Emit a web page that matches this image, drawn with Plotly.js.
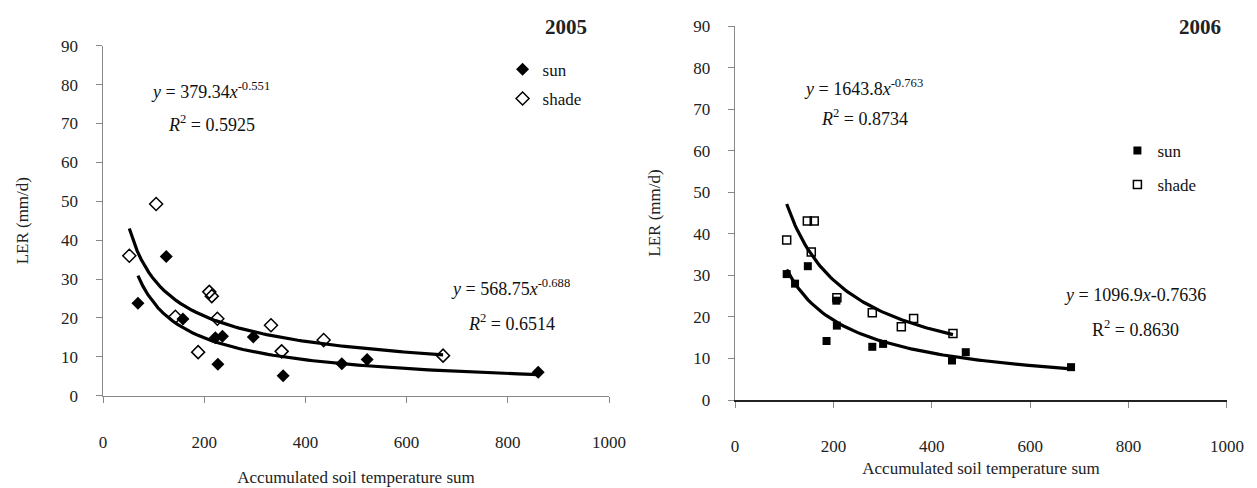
<!DOCTYPE html>
<html>
<head>
<meta charset="utf-8">
<script src="https://cdn.plot.ly/plotly-3.0.1.min.js"></script>
<style>html,body{margin:0;padding:0;background:#fff;}#chart{width:1257px;height:488px;}</style>
</head>
<body>
<div id="chart"></div>
<script>
// ---- 2005 data ----
const sun2005X   = [69, 125, 158, 222, 227, 236, 297, 356, 472, 522, 860];
const sun2005Y   = [23.8, 35.8, 19.7, 14.9, 8.1, 15.3, 15.1, 5.1, 8.2, 9.3, 6.0];
const shade2005X = [52, 105, 143, 188, 210, 215, 226, 332, 353, 436, 672];
const shade2005Y = [36.0, 49.3, 20.3, 11.2, 26.7, 25.6, 19.8, 18.1, 11.4, 14.3, 10.3];
// ---- 2006 data ----
const sun2006X   = [105, 122, 148, 186, 206, 207, 279, 301, 441, 469, 683];
const sun2006Y   = [30.3, 28.0, 32.2, 14.2, 23.9, 17.9, 12.8, 13.5, 9.5, 11.5, 7.9];
const shade2006X = [105, 147, 155, 161, 207, 279, 338, 363, 443];
const shade2006Y = [38.5, 43.1, 35.6, 43.1, 24.6, 21.0, 17.6, 19.6, 16.0];
// ---- power-law fits printed on the chart (a * x^b) ----
const fitShade2005 = [379.34, -0.551];
const fitSun2005   = [568.75, -0.688];
const fitShade2006 = [1643.8, -0.763];
const fitSun2006   = [1096.9, -0.7636];
// ---- ticks / labels ----
const xTicks = [0, 200, 400, 600, 800, 1000];
const yTicks = [0, 10, 20, 30, 40, 50, 60, 70, 80, 90];
const xTitle = 'Accumulated soil temperature sum';
const yTitle = 'LER (mm/d)';

function fitCurve(xs, coef) {
  const lo = Math.min(...xs), hi = Math.max(...xs);
  const fx = [], fy = [];
  const n = 80;
  for (let i = 0; i <= n; i++) {
    const x = lo + (hi - lo) * i / n;
    fx.push(x); fy.push(coef[0] * Math.pow(x, coef[1]));
  }
  return {x: fx, y: fy};
}

const SERIF = '"Liberation Serif", "DejaVu Serif", serif';
const f1 = fitCurve(shade2005X, fitShade2005);
const f2 = fitCurve(sun2005X, fitSun2005);
const f3 = fitCurve(shade2006X, fitShade2006);
const f4 = fitCurve(sun2006X, fitSun2006);
const lineStyle = {color: '#000', width: 3.2};

const traces = [
  {x: f1.x, y: f1.y, mode: 'lines', line: lineStyle, xaxis: 'x', yaxis: 'y', showlegend: false, hoverinfo: 'skip'},
  {x: f2.x, y: f2.y, mode: 'lines', line: lineStyle, xaxis: 'x', yaxis: 'y', showlegend: false, hoverinfo: 'skip'},
  {x: sun2005X, y: sun2005Y, mode: 'markers', name: 'sun', legend: 'legend', legendgroup: 'a1',
   marker: {symbol: 'diamond', size: 10, color: '#000'}, xaxis: 'x', yaxis: 'y'},
  {x: shade2005X, y: shade2005Y, mode: 'markers', name: 'shade', legend: 'legend', legendgroup: 'a2',
   marker: {symbol: 'diamond-open', size: 10, color: '#000', line: {width: 1.5, color: '#000'}}, xaxis: 'x', yaxis: 'y'},
  {x: f3.x, y: f3.y, mode: 'lines', line: lineStyle, xaxis: 'x2', yaxis: 'y2', showlegend: false, hoverinfo: 'skip'},
  {x: f4.x, y: f4.y, mode: 'lines', line: lineStyle, xaxis: 'x2', yaxis: 'y2', showlegend: false, hoverinfo: 'skip'},
  {x: sun2006X, y: sun2006Y, mode: 'markers', name: 'sun', legend: 'legend2', legendgroup: 'b1',
   marker: {symbol: 'square', size: 8, color: '#000'}, xaxis: 'x2', yaxis: 'y2'},
  {x: shade2006X, y: shade2006Y, mode: 'markers', name: 'shade', legend: 'legend2', legendgroup: 'b2',
   marker: {symbol: 'square-open', size: 8, color: '#000', line: {width: 1.5, color: '#000'}}, xaxis: 'x2', yaxis: 'y2'}
];

function xAxis(domain, anchor, lineColor, titleStandoff) {
  return {domain: domain, anchor: anchor, range: [0, 1000], tickvals: xTicks, ticktext: xTicks.map(String),
    showgrid: false, zeroline: false, showline: true, linecolor: lineColor, linewidth: 1.5,
    ticks: 'outside', ticklen: 6, tickcolor: '#888', tickwidth: 1,
    ticklabelstandoff: 24, tickfont: {family: SERIF, size: 17, color: '#222'},
    title: {text: xTitle, font: {family: SERIF, size: 17, color: '#222'}, standoff: titleStandoff}};
}
function yAxis(domain, anchor) {
  return {domain: domain, anchor: anchor, range: [0, 90], tickvals: yTicks, ticktext: yTicks.map(String),
    showgrid: false, zeroline: false, showline: true, linecolor: '#888', linewidth: 1.5,
    ticks: 'outside', ticklen: 6, tickcolor: '#888', tickwidth: 1,
    ticklabelstandoff: 14, tickfont: {family: SERIF, size: 17, color: '#222'},
    title: {text: yTitle, font: {family: SERIF, size: 17, color: '#222'}, standoff: 28}};
}

const eqFont = {family: SERIF, size: 18, color: '#111'};
const ann = [
  {xref: 'x', yref: 'y', x: 212, y: 78.6, text: '<i>y</i> = 379.34<i>x</i><sup>-0.551</sup>'},
  {xref: 'x', yref: 'y', x: 214, y: 69.9, text: '<i>R</i><sup>2</sup> = 0.5925'},
  {xref: 'x', yref: 'y', x: 806, y: 27.7, text: '<i>y</i> = 568.75<i>x</i><sup>-0.688</sup>'},
  {xref: 'x', yref: 'y', x: 808, y: 18.7, text: '<i>R</i><sup>2</sup> = 0.6514'},
  {xref: 'x2', yref: 'y2', x: 262, y: 75.3, text: '<i>y</i> = 1643.8<i>x</i><sup>-0.763</sup>'},
  {xref: 'x2', yref: 'y2', x: 264, y: 67.9, text: '<i>R</i><sup>2</sup> = 0.8734'},
  {xref: 'x2', yref: 'y2', x: 814, y: 25.3, text: '<i>y</i> = 1096.9<i>x</i>-0.7636'},
  {xref: 'x2', yref: 'y2', x: 814, y: 17.3, text: 'R<sup>2</sup> = 0.8630'}
].map(a => Object.assign({showarrow: false, font: eqFont, xanchor: 'center', yanchor: 'middle'}, a));
ann.push({xref: 'paper', yref: 'paper', x: 0.412, y: 0.997, text: '<b>2005</b>', showarrow: false,
  font: {family: SERIF, size: 21, color: '#222'}, xanchor: 'center', yanchor: 'middle'});
ann.push({xref: 'paper', yref: 'paper', x: 0.976, y: 0.997, text: '<b>2006</b>', showarrow: false,
  font: {family: SERIF, size: 21, color: '#222'}, xanchor: 'center', yanchor: 'middle'});

const legFont = {family: SERIF, size: 17, color: '#111'};
const layout = {
  width: 1257, height: 488,
  margin: {l: 103, r: 30, t: 26, b: 88},
  paper_bgcolor: '#fff', plot_bgcolor: 'rgba(0,0,0,0)',
  font: {family: SERIF},
  xaxis: xAxis([0, 0.4502], 'y', '#888', 20),
  yaxis: yAxis([0.0115, 0.9473], 'x'),
  xaxis2: xAxis([0.5623, 1], 'y2', '#222', 7),
  yaxis2: yAxis([0, 1], 'x2'),
  legend: {x: 0.3555, y: 0.931, xanchor: 'left', yanchor: 'top', bgcolor: 'rgba(0,0,0,0)',
    font: legFont, traceorder: 'grouped', tracegroupgap: 4, itemwidth: 30},
  legend2: {x: 0.9025, y: 0.714, xanchor: 'left', yanchor: 'top', bgcolor: 'rgba(0,0,0,0)',
    font: legFont, traceorder: 'grouped', tracegroupgap: 9, itemwidth: 30},
  annotations: ann,
  hovermode: false
};

Plotly.newPlot('chart', traces, layout, {displayModeBar: false, staticPlot: true});
</script>
</body>
</html>
